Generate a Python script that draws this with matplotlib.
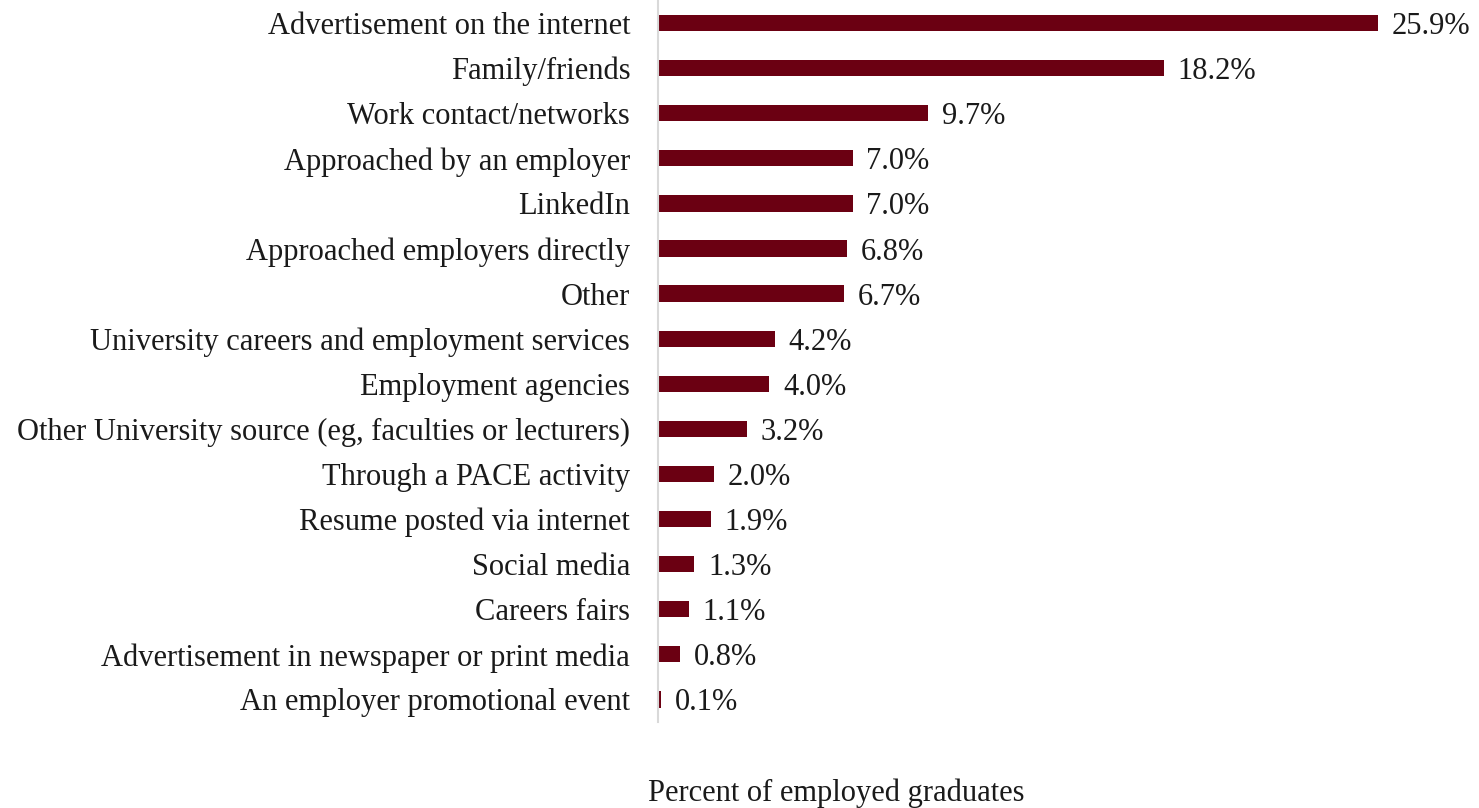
import matplotlib
matplotlib.use("Agg")
import matplotlib.pyplot as plt

categories = [
    "Advertisement on the internet",
    "Family/friends",
    "Work contact/networks",
    "Approached by an employer",
    "LinkedIn",
    "Approached employers directly",
    "Other",
    "University careers and employment services",
    "Employment agencies",
    "Other University source (eg, faculties or lecturers)",
    "Through a PACE activity",
    "Resume posted via internet",
    "Social media",
    "Careers fairs",
    "Advertisement in newspaper or print media",
    "An employer promotional event",
]
values = [25.9, 18.2, 9.7, 7.0, 7.0, 6.8, 6.7, 4.2, 4.0, 3.2, 2.0, 1.9, 1.3, 1.1, 0.8, 0.1]
xlabel = "Percent of employed graduates"

plt.rcParams["font.family"] = ["Liberation Serif", "DejaVu Serif"]
FS = 22
TXT = "#1a1a1a"

W, H = 1479, 808
fig = plt.figure(figsize=(W / 100, H / 100), dpi=100)
left, right, top, bottom = 658, 1466, 0.5, 722
ax = fig.add_axes([left / W, 1 - bottom / H, (right - left) / W, (bottom - top) / H])

pos = list(range(len(categories)))
ax.barh(pos, values, height=0.36, color="#6B0012")
ax.set_ylim(len(categories) - 0.5, -0.5)
ax.set_xlim(0, 29.07)
ax.set_yticks(pos)
ax.set_yticklabels(categories, fontsize=FS, color=TXT, va="center_baseline")
ax.tick_params(axis="y", length=0, pad=20)
ax.set_xticks([])

for p, v in zip(pos, values):
    ax.text(v + 0.5, p, f"{v:.1f}%", va="center_baseline", ha="left", fontsize=FS, color=TXT)

for s in ["top", "right", "bottom"]:
    ax.spines[s].set_visible(False)
ax.spines["left"].set_color("#d9d9d9")
ax.spines["left"].set_linewidth(1.5)

fig.text((left + 178) / W, 1 - 790 / H, xlabel, ha="center", va="center_baseline",
         fontsize=FS, color=TXT)

fig.savefig("out.png", dpi=100)
